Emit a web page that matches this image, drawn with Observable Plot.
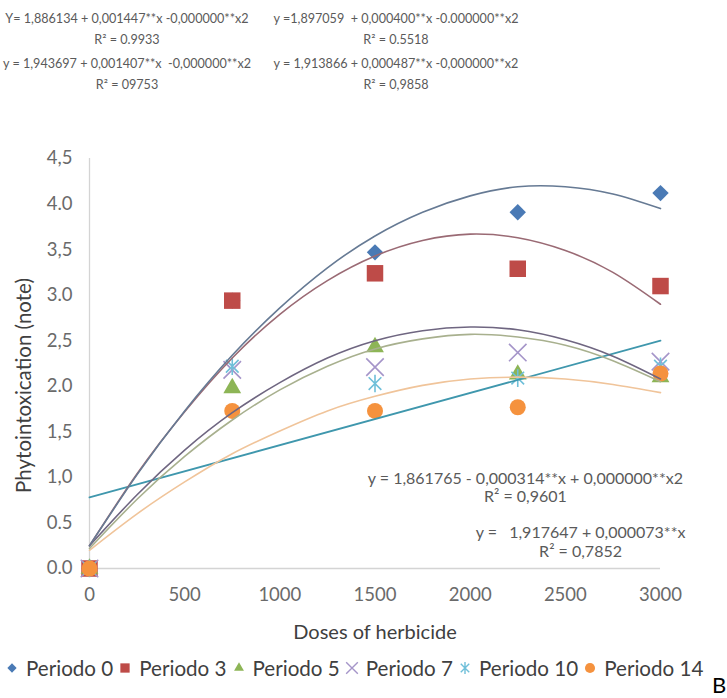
<!DOCTYPE html>
<html>
<head>
<meta charset="utf-8">
<script src="https://cdn.jsdelivr.net/npm/d3@7"></script>
<script src="https://cdn.jsdelivr.net/npm/@observablehq/plot@0.6"></script>
<style>
  body { margin: 0; background: #fff; font-family: Lato, "Open Sans", sans-serif; }
  #wrap { position: relative; width: 727px; height: 698px; overflow: hidden; background: #fff; }
  .eq { position: absolute; transform: translate(-50%, -50%); white-space: pre; font-size: 12.6px; color: #5a5a5a; }
  #chart { position: absolute; top: 110px; left: 0; }
  #legend { position: absolute; top: 668px; left: 5px; transform: translateY(-50%); display: flex; align-items: center; font-size: 20.6px; color: #404040; white-space: nowrap; }
  .item { display: flex; align-items: center; margin-right: 5px; }
  .item svg { margin-right: 7px; }
  #B { position: absolute; left: 712px; top: 674px; font-size: 22px; color: #000; line-height: 1; }
</style>
</head>
<body>
<div id="wrap">
  <div id="head"></div>
  <div id="chart"></div>
  <div id="legend"></div>
  <div id="B">B</div>
</div>
<script>
// ---- data ----
const doses = [0, 750, 1500, 2250, 3000];
const periodo0 = [0, 2.94, 3.47, 3.91, 4.12];
const periodo3 = [0, 2.94, 3.24, 3.29, 3.10];
const periodo5 = [0, 1.98, 2.43, 2.13, 2.10];
const periodo7 = [0, 2.18, 2.21, 2.37, 2.27];
const periodo10 = [0, 2.22, 2.03, 2.09, 2.22];
const periodo14 = [0, 1.73, 1.73, 1.77, 2.14];

const seriesNames = ["Periodo 0", "Periodo 3", "Periodo 5", "Periodo 7", "Periodo 10", "Periodo 14"];

// trend lines
const trendX = [0, 250, 500, 750, 1000, 1250, 1500, 1750, 2000, 2250, 2500, 2750, 3000];
const trend0 = [0.25, 1.03, 1.73, 2.34, 2.86, 3.30, 3.65, 3.91, 4.09, 4.19, 4.19, 4.11, 3.95];
const trend3 = [0.25, 1.04, 1.72, 2.31, 2.79, 3.16, 3.43, 3.60, 3.67, 3.63, 3.49, 3.25, 2.90];
const trend7 = [0.25, 0.81, 1.30, 1.71, 2.04, 2.31, 2.50, 2.61, 2.65, 2.62, 2.51, 2.33, 2.08];
const trend5 = [0.22, 0.76, 1.23, 1.63, 1.96, 2.22, 2.41, 2.52, 2.57, 2.54, 2.45, 2.28, 2.05];
const trend14 = [0.20, 0.60, 0.95, 1.26, 1.51, 1.73, 1.89, 2.01, 2.08, 2.10, 2.08, 2.02, 1.93];
const linearX = [0, 3000];
const trend10 = [0.78, 2.50];

const xTicks = [0, 500, 1000, 1500, 2000, 2500, 3000];
const yTicks = [0, 0.5, 1, 1.5, 2, 2.5, 3, 3.5, 4, 4.5];
const yTickLabels = ["0.0", "0.5", "1,0", "1,5", "2.0", "2,5", "3.0", "3,5", "4.0", "4,5"];

const topEquations = [
  "Y= 1,886134 + 0,001447**x -0,000000**x2",
  "y =1,897059  + 0,000400**x -0.000000**x2",
  "y = 1,943697 + 0,001407**x  -0,000000**x2",
  "y = 1,913866 + 0,000487**x -0,000000**x2"
];
const topR2 = ["R² = 0.9933", "R² = 0.5518", "R² = 09753", "R² = 0,9858"];
const innerEquations = ["y = 1,861765 - 0,000314**x + 0,000000**x2", "y =   1,917647 + 0,000073**x"];
const innerR2 = ["R² = 0,9601", "R² = 0,7852"];

const xTitle = "Doses of herbicide";
const yTitle = "Phytointoxication (note)";

// ---- header equations ----
const head = document.getElementById("head");
const headPos = [[127, 18], [396, 18], [127, 63], [396, 63]];
topEquations.forEach((t, i) => {
  const a = document.createElement("div");
  a.className = "eq"; a.textContent = t;
  a.style.left = headPos[i][0] + "px"; a.style.top = headPos[i][1] + "px";
  head.appendChild(a);
  const b = document.createElement("div");
  b.className = "eq"; b.textContent = topR2[i];
  b.style.left = headPos[i][0] + "px"; b.style.top = (headPos[i][1] + 21) + "px";
  head.appendChild(b);
});

// Excel-like "star" marker: X plus vertical bar
const starSymbol = {
  draw(context, size) {
    const r = Math.sqrt(size / Math.PI) * 1.1;
    const d = r * 0.72;
    context.moveTo(-d, -d); context.lineTo(d, d);
    context.moveTo(d, -d); context.lineTo(-d, d);
    context.moveTo(0, -r); context.lineTo(0, r);
  }
};

const rows = (ys) => doses.map((x, i) => ({x, y: ys[i]}));
const trendRows = (xs, ys) => xs.map((x, i) => ({x, y: ys[i]}));

const colors = {
  p0: "#4a7ab5", p3: "#be4b48", p5: "#8db556", p7: "#a595c9", p10: "#6fbfd9", p14: "#f5923e"
};

const plot = Plot.plot({
  width: 727,
  height: 540,
  marginLeft: 89,
  marginRight: 67,
  marginTop: 48,
  marginBottom: 82,
  style: {fontFamily: "Lato, 'Open Sans', sans-serif", fontSize: "18.5px", background: "#fff"},
  x: {domain: [0, 3000]},
  y: {domain: [0, 4.5]},
  marks: [
    Plot.ruleY([0], {stroke: "#d4d4d4", strokeWidth: 1.3}),
    Plot.ruleX([0], {y1: 0, y2: 4.5, stroke: "#d4d4d4", strokeWidth: 1.3}),
    Plot.axisX(xTicks, {tickSize: 0, tickPadding: 19, label: null, fill: "#6a6a6a", tickFormat: d => String(d)}),
    Plot.axisY(yTicks, {tickSize: 0, tickPadding: 17, label: null, fill: "#6a6a6a", tickFormat: d => yTickLabels[yTicks.indexOf(d)]}),
    Plot.dot(rows(periodo0), {x: "x", y: "y", symbol: "diamond2", r: 7.4, fill: colors.p0}),
    Plot.dot(rows(periodo3), {x: "x", y: "y", symbol: "square2", r: 10.5, fill: colors.p3}),
    Plot.dot(rows(periodo5), {x: "x", y: "y", symbol: "triangle2", r: 8.5, fill: colors.p5}),
    Plot.dot(rows(periodo7), {x: "x", y: "y", symbol: "times", r: 8, stroke: colors.p7, strokeWidth: 1.6}),
    Plot.dot(rows(periodo10), {x: "x", y: "y", symbol: starSymbol, r: 8, stroke: colors.p10, strokeWidth: 1.6}),
    Plot.dot(rows(periodo14), {x: "x", y: "y", symbol: "circle", r: 8, fill: colors.p14}),
    Plot.line(trendRows(linearX, trend10), {x: "x", y: "y", stroke: "#3f97ad", strokeWidth: 1.8}),
    Plot.line(trendRows(trendX, trend14), {x: "x", y: "y", curve: "natural", stroke: "#f0c49a", strokeWidth: 1.6}),
    Plot.line(trendRows(trendX, trend5), {x: "x", y: "y", curve: "natural", stroke: "#a8b08e", strokeWidth: 1.6}),
    Plot.line(trendRows(trendX, trend7), {x: "x", y: "y", curve: "natural", stroke: "#6f6681", strokeWidth: 1.6}),
    Plot.line(trendRows(trendX, trend3), {x: "x", y: "y", curve: "natural", stroke: "#9a6a74", strokeWidth: 1.6}),
    Plot.line(trendRows(trendX, trend0), {x: "x", y: "y", curve: "natural", stroke: "#667a94", strokeWidth: 1.6}),
    Plot.text([innerEquations[0]], {x: 2290, y: 0.98, fontSize: 16, fill: "#5a5a5a"}),
    Plot.text([innerR2[0]], {x: 2290, y: 0.79, fontSize: 16, fill: "#5a5a5a"}),
    Plot.text([innerEquations[1]], {x: 2580, y: 0.39, fontSize: 16, fill: "#5a5a5a"}),
    Plot.text([innerR2[1]], {x: 2580, y: 0.18, fontSize: 16, fill: "#5a5a5a"}),
    Plot.text([xTitle], {frameAnchor: "bottom", dy: 70, fontSize: 20, fill: "#404040"}),
    Plot.text([yTitle], {frameAnchor: "left", textAnchor: "middle", dx: -65, dy: 22, rotate: -90, fontSize: 20.5, fill: "#404040"})
  ]
});
document.getElementById("chart").appendChild(plot);

// ---- legend ----
const legend = document.getElementById("legend");
const legendSymbols = [
  {sym: d3.symbolDiamond2, fill: colors.p0, size: 55},
  {sym: d3.symbolSquare2, fill: colors.p3, size: 110},
  {sym: d3.symbolTriangle2, fill: colors.p5, size: 70},
  {sym: d3.symbolTimes, stroke: colors.p7, size: 90},
  {sym: starSymbol, stroke: colors.p10, size: 90},
  {sym: d3.symbolCircle, fill: colors.p14, size: 80}
];
seriesNames.forEach((name, i) => {
  const item = document.createElement("div");
  item.className = "item";
  const s = legendSymbols[i];
  const svg = d3.create("svg").attr("width", 14).attr("height", 14);
  svg.append("path")
    .attr("transform", "translate(7,7)")
    .attr("d", d3.symbol(s.sym, s.size)())
    .attr("fill", s.fill || "none")
    .attr("stroke", s.stroke || "none")
    .attr("stroke-width", 1.4);
  item.appendChild(svg.node());
  const span = document.createElement("span");
  span.textContent = name;
  item.appendChild(span);
  legend.appendChild(item);
});
</script>
</body>
</html>
